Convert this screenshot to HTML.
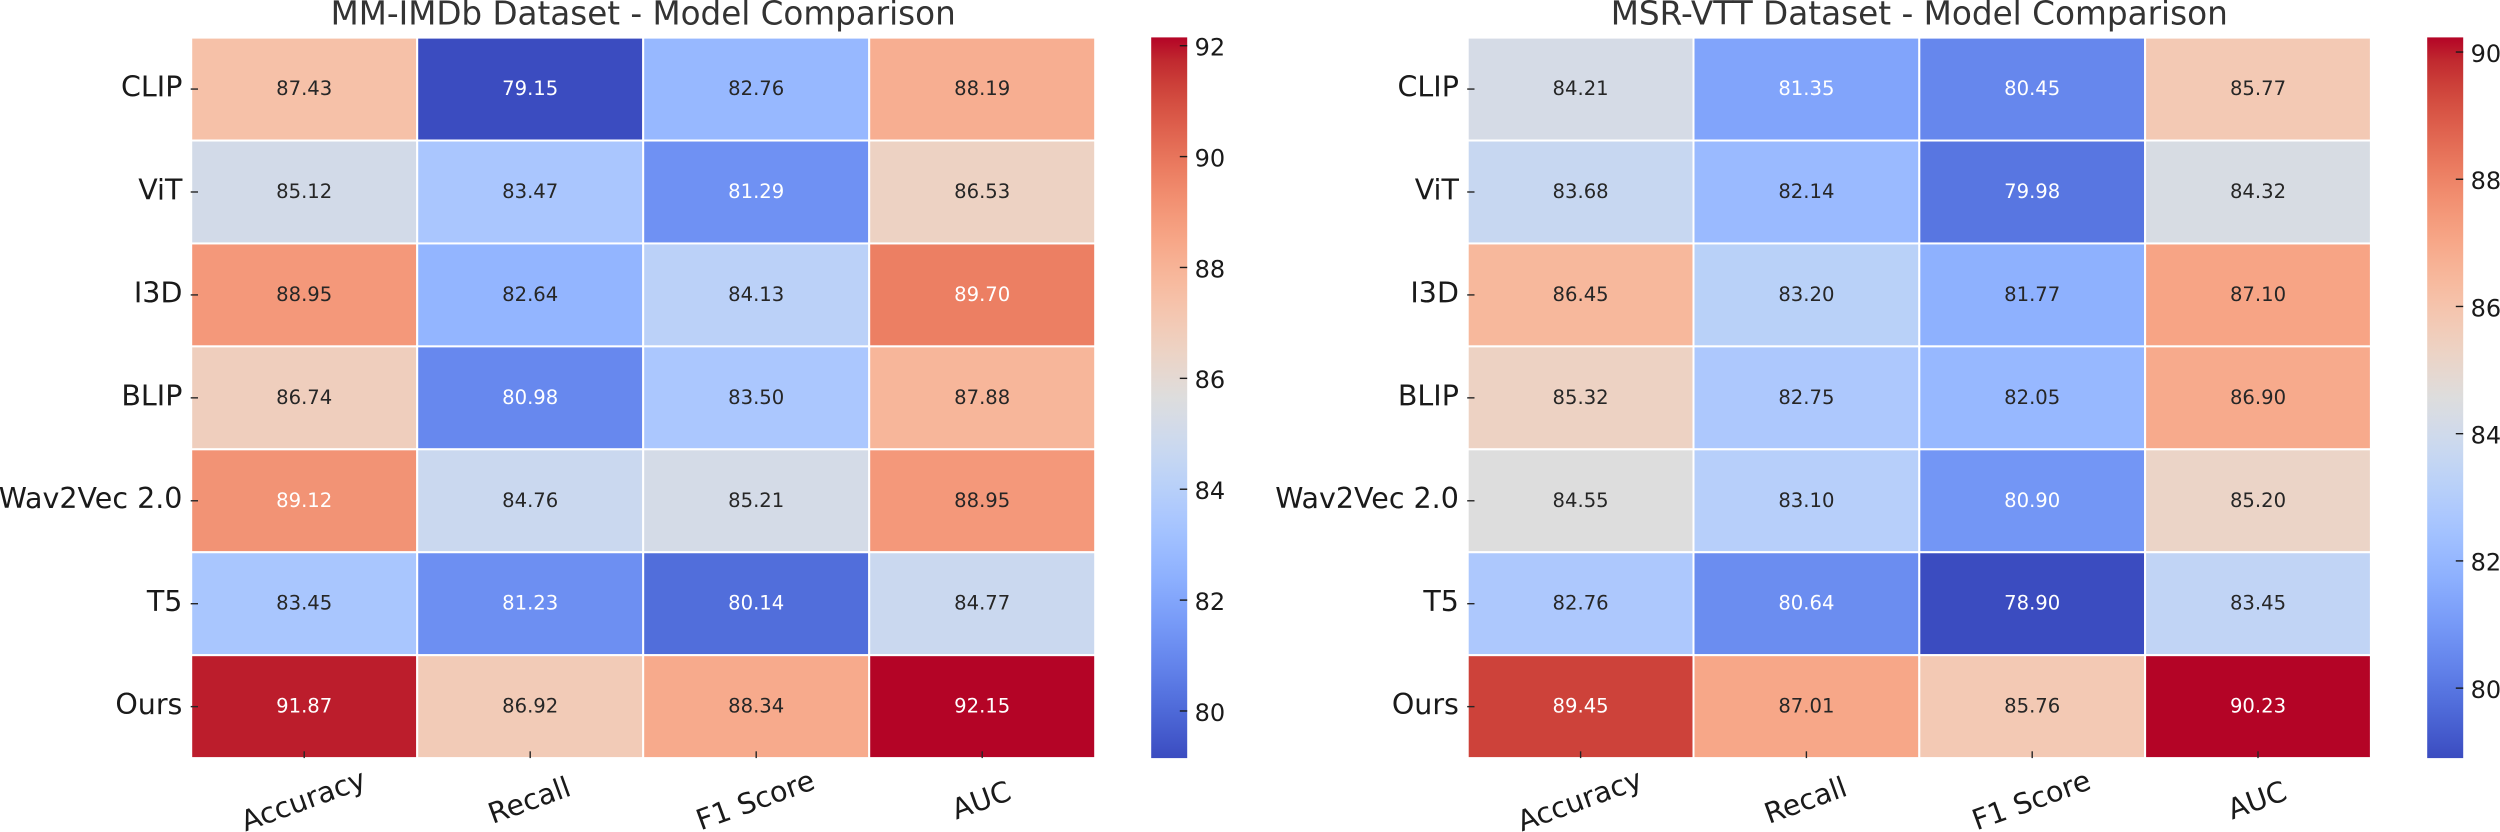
<!DOCTYPE html>
<html lang="en">
<head>
<meta charset="utf-8">
<title>Model Comparison Heatmaps</title>
<style>
  html, body { margin: 0; padding: 0; background: #fff; }
  body { width: 2500px; height: 832px; overflow: hidden; }
  svg { display: block; font-family: "DejaVu Sans", "Liberation Sans", sans-serif; }
</style>
</head>
<body>
<svg id="figure" width="2500" height="832" viewBox="0 0 2500 832" xmlns="http://www.w3.org/2000/svg">
  <defs>
    <linearGradient id="coolwarm-gradient" x1="0" y1="1" x2="0" y2="0"></linearGradient>
  </defs>
  <rect width="2500" height="832" fill="#ffffff"></rect>
  <text x="643.2" y="24.5" font-size="32.6" text-anchor="middle" fill="#333333">MM-IMDb Dataset - Model Comparison</text>
  <text x="1919.3" y="24.5" font-size="32.7" text-anchor="middle" fill="#333333">MSR-VTT Dataset - Model Comparison</text>
  <g id="panel-left"></g>
  <g id="panel-right"></g>
</svg>
<script>
const models = ["CLIP", "ViT", "I3D", "BLIP", "Wav2Vec 2.0", "T5", "Ours"];
const metrics = ["Accuracy", "Recall", "F1 Score", "AUC"];

const accuracyMM = [87.43, 85.12, 88.95, 86.74, 89.12, 83.45, 91.87];
const recallMM = [79.15, 83.47, 82.64, 80.98, 84.76, 81.23, 86.92];
const f1MM = [82.76, 81.29, 84.13, 83.50, 85.21, 80.14, 88.34];
const aucMM = [88.19, 86.53, 89.70, 87.88, 88.95, 84.77, 92.15];

const accuracyMSR = [84.21, 83.68, 86.45, 85.32, 84.55, 82.76, 89.45];
const recallMSR = [81.35, 82.14, 83.20, 82.75, 83.10, 80.64, 87.01];
const f1MSR = [80.45, 79.98, 81.77, 82.05, 80.90, 78.90, 85.76];
const aucMSR = [85.77, 84.32, 87.10, 86.90, 85.20, 83.45, 90.23];

const colorbarTicksMM = [80, 82, 84, 86, 88, 90, 92];
const colorbarTicksMSR = [80, 82, 84, 86, 88, 90];

const coolwarm = [
  [59,76,192],[68,90,204],[77,104,215],[87,117,225],[98,130,234],[108,142,241],[119,154,247],[130,165,251],
  [141,176,254],[152,185,255],[163,194,255],[174,201,253],[184,208,249],[194,213,244],[204,217,238],[213,219,230],
  [221,221,221],[229,216,209],[236,211,197],[241,204,185],[245,196,173],[247,187,160],[247,177,148],[247,166,135],
  [244,154,123],[241,141,111],[236,127,99],[229,112,88],[222,96,77],[213,80,66],[203,62,56],[192,40,47],[180,4,38]
];

const SVG_NS = "http://www.w3.org/2000/svg";

function sample(t) {
  const clamped = Math.max(0, Math.min(1, t));
  const pos = clamped * (coolwarm.length - 1);
  const i = Math.min(Math.floor(pos), coolwarm.length - 2);
  const f = pos - i;
  return coolwarm[i].map(function (c, k) { return c + (coolwarm[i + 1][k] - c) * f; });
}

function toCss(rgb) {
  return "rgb(" + rgb.map(function (c) { return Math.round(c); }).join(",") + ")";
}

function luminance(rgb) {
  const lin = rgb.map(function (c) {
    const v = c / 255;
    return v <= 0.03928 ? v / 12.92 : Math.pow((v + 0.055) / 1.055, 2.4);
  });
  return 0.2126 * lin[0] + 0.7152 * lin[1] + 0.0722 * lin[2];
}

function make(tag, props, parent) {
  const el = document.createElementNS(SVG_NS, tag);
  Object.keys(props).forEach(function (key) { el.setAttribute(key, props[key]); });
  parent.appendChild(el);
  return el;
}

function slug(text) {
  return text.toLowerCase().replace(/[^a-z0-9]+/g, "-");
}

const gradient = document.getElementById("coolwarm-gradient");
coolwarm.forEach(function (rgb, i) {
  make("stop", { offset: i / (coolwarm.length - 1), "stop-color": toCss(rgb) }, gradient);
});

function drawPanel(parent, series, ticks, layout) {
  const all = [].concat.apply([], series);
  const vmin = Math.min.apply(null, all);
  const vmax = Math.max.apply(null, all);
  const norm = function (v) { return (v - vmin) / (vmax - vmin); };

  const colWidth = (layout.right - layout.left) / metrics.length;
  const rowHeight = (layout.bottom - layout.top) / models.length;
  const xCenter = function (c) { return layout.left + (c + 0.5) * colWidth; };
  const yCenter = function (r) { return layout.top + (r + 0.5) * rowHeight; };
  const barY = function (v) { return layout.barTop + (vmax - v) / (vmax - vmin) * layout.barHeight; };

  series.forEach(function (values, c) {
    values.forEach(function (value, r) {
      const rgb = sample(norm(value));
      const cell = make("rect", {
        x: layout.left + c * colWidth,
        y: layout.top + r * rowHeight,
        width: colWidth,
        height: rowHeight,
        fill: toCss(rgb),
        stroke: "#ffffff",
        "stroke-width": 2
      }, parent);
      
      
    });
  });

  series.forEach(function (values, c) {
    values.forEach(function (value, r) {
      const dark = luminance(sample(norm(value))) > 0.415;
      const label = make("text", {
        x: xCenter(c),
        y: yCenter(r) + 6,
        "font-size": 19.6,
        "text-anchor": "middle",
        fill: dark ? "#262626" : "#ffffff"
      }, parent);
      label.textContent = value.toFixed(2);
      
      
    });
  });

  models.forEach(function (model, r) {
    const tick = make("line", {
      x1: layout.left - 0.5,
      x2: layout.left + 6.8,
      y1: yCenter(r),
      y2: yCenter(r),
      stroke: "#262626",
      "stroke-width": 1.4
    }, parent);
    
    

    const label = make("text", {
      x: layout.left - 8.8,
      y: yCenter(r) + 7.4,
      "font-size": 28.5,
      "text-anchor": "end",
      fill: "#1a1a1a"
    }, parent);
    label.textContent = model;
    
    
  });

  metrics.forEach(function (metric, c) {
    const tick = make("line", {
      x1: xCenter(c),
      x2: xCenter(c),
      y1: layout.bottom - 6.8,
      y2: layout.bottom,
      stroke: "#262626",
      "stroke-width": 1.4
    }, parent);
    
    

    const label = make("text", {
      x: xCenter(c) - 1,
      y: 810,
      "font-size": 28.5,
      "text-anchor": "middle",
      fill: "#1a1a1a",
      transform: "rotate(-20 " + (xCenter(c) - 1) + " 800)"
    }, parent);
    label.textContent = metric;
    
    
  });

  const bar = make("rect", {
    x: layout.barLeft,
    y: layout.barTop,
    width: layout.barWidth,
    height: layout.barHeight,
    fill: "url(#coolwarm-gradient)"
  }, parent);
  
  

  ticks.forEach(function (value) {
    const tick = make("line", {
      x1: layout.barLeft + layout.barWidth - 7.4,
      x2: layout.barLeft + layout.barWidth,
      y1: barY(value),
      y2: barY(value),
      stroke: "#1a1a1a",
      "stroke-width": 1.4
    }, parent);
    
    

    const label = make("text", {
      x: layout.barLeft + layout.barWidth + 7.4,
      y: barY(value) + 9.8,
      "font-size": 24,
      fill: "#1a1a1a"
    }, parent);
    label.textContent = String(value);
    
    
  });
}

drawPanel(
  document.getElementById("panel-left"),
  [accuracyMM, recallMM, f1MM, aucMM],
  colorbarTicksMM,
  { left: 191.2, right: 1095.2, top: 37.6, bottom: 758.1, barLeft: 1151.2, barWidth: 36, barTop: 37.4, barHeight: 720.7 }
);

drawPanel(
  document.getElementById("panel-right"),
  [accuracyMSR, recallMSR, f1MSR, aucMSR],
  colorbarTicksMSR,
  { left: 1467.7, right: 2370.9, top: 37.6, bottom: 758.1, barLeft: 2427.2, barWidth: 36, barTop: 37.4, barHeight: 720.7 }
);
</script>
</body>
</html>
